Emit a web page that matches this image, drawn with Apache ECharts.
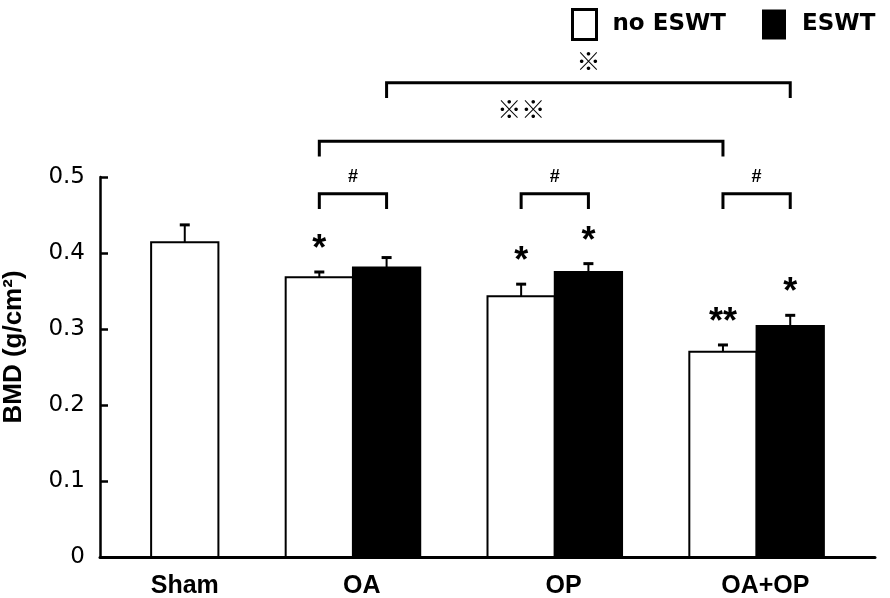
<!DOCTYPE html>
<html>
<head>
<meta charset="utf-8">
<script src="https://cdn.jsdelivr.net/npm/echarts@6/dist/echarts.min.js"></script>
<style>
  html, body { margin: 0; padding: 0; background: #fff; }
  #chart { width: 890px; height: 598px; }
</style>
</head>
<body>
<div id="chart"></div>
<script>
// ---------------- data ----------------
const categories   = ['Sham', 'OA', 'OP', 'OA+OP'];
const noEswtBMD    = [0.414, 0.368, 0.343, 0.270];
const noEswtSEM    = [0.023, 0.007, 0.016, 0.009];
const eswtBMD      = [null, 0.381, 0.375, 0.304];
const eswtSEM      = [null, 0.013, 0.011, 0.014];
const noEswtMarks  = ['', '*', '*', '**'];
const eswtMarks    = ['', '', '*', '*'];
const pairMarks    = ['', '#', '#', '#'];
const yTickLabels  = ['0', '0.1', '0.2', '0.3', '0.4', '0.5'];
const seriesNames  = ['no ESWT', 'ESWT'];
const groupComparisons = [
  { series: 0, from: 1, to: 3, mark: '※※' },
  { series: 1, from: 1, to: 3, mark: '※' }
];

// ---------------- layout ----------------
// x axis measured in "bar slots": Sham has one bar, other groups a pair, one empty slot between groups
function barSlot(i, s) { return i === 0 ? 0 : 3 * i - 1 + s; }
function groupCenter(i) { return i === 0 ? 0.5 : 3 * i + 0.13; }
const X_MIN = -0.76, X_MAX = 10.76;
const PAIR_LEVEL = 0.478;           // top of the '#' brackets (value units)
const TIER_LEVELS = [0.547, 0.624]; // top of the group comparison brackets
const LEG = 0.02;                   // bracket leg length (value units)
const PAIR_LABEL_GAP = 17;          // px
const TIER_LABEL_GAPS = [32, 22];   // px
const STAR_GAP = 30;                // px above error bar

const labelPositions = categories.map((c, i) => groupCenter(i));

function makeBarSeries(s, values, sems, marks) {
  const data = [];
  values.forEach((v, i) => {
    if (v !== null) data.push([barSlot(i, s), v, sems[i], i]);
  });
  const fill = s === 0 ? '#fff' : '#000';
  return {
    name: seriesNames[s],
    type: 'custom',
    clip: false,
    itemStyle: { color: fill, borderColor: '#000', borderWidth: 2 },
    data: data,
    z: 2 + s,
    renderItem: function (params, api) {
      const x0 = api.value(0), v = api.value(1), e = api.value(2), i = api.value(3);
      const base = api.coord([x0, 0]);
      const topR = api.coord([x0 + 1, v]);
      const cx = api.coord([x0 + 0.5, 0])[0];
      const errY = api.coord([x0, v + e])[1];
      const children = [
        { type: 'rect', shape: { x: base[0], y: topR[1], width: topR[0] - base[0], height: base[1] - topR[1] },
          style: { fill: fill, stroke: '#000', lineWidth: 2 } },
        { type: 'line', shape: { x1: cx, y1: topR[1], x2: cx, y2: errY }, style: { stroke: '#000', lineWidth: 2 } },
        { type: 'line', shape: { x1: cx - 5, y1: errY, x2: cx + 5, y2: errY }, style: { stroke: '#000', lineWidth: 3 } }
      ];
      const m = marks[i];
      if (m) {
        children.push({ type: 'text', style: { text: m, x: cx, y: errY - STAR_GAP + 8,
          fontSize: 36, fontWeight: 'bold', fontFamily: 'Liberation Sans',
          fill: '#000', align: 'center', verticalAlign: 'middle' } });
      }
      return { type: 'group', children: children };
    }
  };
}

// brackets
const bracketList = [];
pairMarks.forEach((m, i) => {
  if (m) bracketList.push({ x1: barSlot(i, 0) + 0.5, x2: barSlot(i, 1) + 0.5, level: PAIR_LEVEL, text: m,
    gap: PAIR_LABEL_GAP, fontSize: 18, fontWeight: 'bold', fontFamily: 'Liberation Sans' });
});
groupComparisons.forEach((g, k) => {
  bracketList.push({ x1: barSlot(g.from, g.series) + 0.5, x2: barSlot(g.to, g.series) + 0.5, level: TIER_LEVELS[k],
    text: g.mark, gap: TIER_LABEL_GAPS[k], fontSize: 24, fontWeight: 'bold', fontFamily: 'Noto Sans CJK JP' });
});

const bracketSeries = {
  type: 'custom',
  silent: true,
  clip: false,
  z: 5,
  data: bracketList.map(b => [b.x1, b.level]),
  renderItem: function (params, api) {
    const b = bracketList[params.dataIndex];
    const pTop1 = api.coord([b.x1, b.level]);
    const pTop2 = api.coord([b.x2, b.level]);
    const legY = api.coord([b.x1, b.level - LEG])[1];
    return { type: 'group', children: [
      { type: 'polyline', shape: { points: [[pTop1[0], legY], [pTop1[0], pTop1[1]], [pTop2[0], pTop2[1]], [pTop2[0], legY]] },
        style: { stroke: '#000', lineWidth: 3, fill: null } },
      { type: 'text', style: { text: b.text, x: (pTop1[0] + pTop2[0]) / 2, y: pTop1[1] - b.gap,
        fontSize: b.fontSize, fontWeight: b.fontWeight, fontFamily: b.fontFamily,
        fill: '#000', align: 'center', verticalAlign: 'middle' } }
    ] };
  }
};

const chart = echarts.init(document.getElementById('chart'), null, { renderer: 'canvas' });
chart.setOption({
  animation: false,
  backgroundColor: '#fff',
  grid: { left: 100, right: 15, top: 177, bottom: 41, containLabel: false, outerBoundsMode: 'none' },
  legend: {
    left: 566, top: 3, itemWidth: 24, itemHeight: 30, itemGap: 36, icon: 'rect', selectedMode: false,
    textStyle: { fontFamily: 'DejaVu Sans', fontWeight: 'bold', fontSize: 23, color: '#000', padding: [0, 0, 0, 11] },
    data: [
      { name: seriesNames[0], itemStyle: { color: '#fff', borderColor: '#000', borderWidth: 3 } },
      { name: seriesNames[1], itemStyle: { color: '#000', borderColor: '#000', borderWidth: 0 } }
    ]
  },
  xAxis: {
    type: 'value', min: X_MIN, max: X_MAX,
    splitLine: { show: false },
    axisLine: { show: true, onZero: false, lineStyle: { color: '#000', width: 3 } },
    axisTick: { show: false },
    axisLabel: {
      customValues: labelPositions,
      showMinLabel: true, showMaxLabel: true,
      margin: 17,
      fontFamily: 'Liberation Sans', fontWeight: 'bold', fontSize: 25, color: '#000',
      formatter: function (v) {
        const idx = labelPositions.findIndex(p => Math.abs(p - v) < 0.01);
        return idx >= 0 ? categories[idx] : '';
      }
    }
  },
  yAxis: {
    type: 'value', min: 0, max: 0.5, interval: 0.1,
    name: 'BMD (g/cm²)', nameLocation: 'middle', nameRotate: 90, nameGap: 73,
    nameTextStyle: { fontFamily: 'Liberation Sans', fontWeight: 'bold', fontSize: 26, color: '#000', padding: [0, 0, 0, 40] },
    splitLine: { show: false },
    axisLine: { show: true, onZero: false, lineStyle: { color: '#000', width: 2.5 } },
    axisTick: { show: true, inside: true, length: 8, lineStyle: { color: '#000', width: 2.5 } },
    axisLabel: {
      margin: 15, fontFamily: 'DejaVu Sans', fontSize: 23, color: '#000',
      formatter: function (v) { return yTickLabels[Math.round(v / 0.1)]; }
    }
  },
  series: [
    makeBarSeries(0, noEswtBMD, noEswtSEM, noEswtMarks),
    makeBarSeries(1, eswtBMD, eswtSEM, eswtMarks),
    bracketSeries
  ]
});
</script>
</body>
</html>
